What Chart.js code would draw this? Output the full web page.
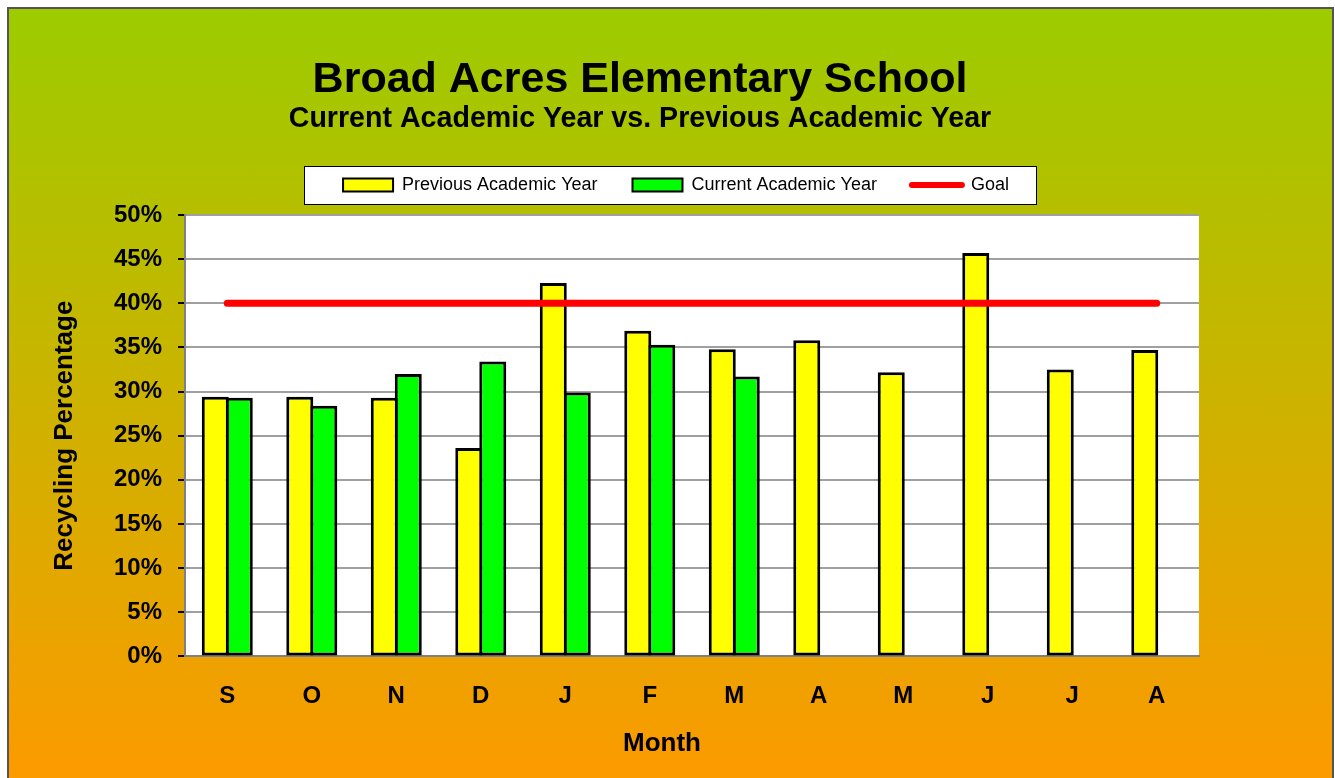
<!DOCTYPE html>
<html>
<head>
<meta charset="utf-8">
<title>Broad Acres Elementary School - Recycling</title>
<script src="https://cdn.jsdelivr.net/npm/chart.js@4.4.1/dist/chart.umd.min.js"></script>
<style>
html, body { margin: 0; padding: 0; background: #fff; overflow: hidden; }
#frame {
    position: absolute; left: 7px; top: 7px;
    width: 1323px; height: 771px;
    border: 2px solid #555; border-bottom: none;
    background: linear-gradient(to bottom, #9ccc00 0%, #fc9a00 100%);
}
#wrap { position: absolute; left: 0; top: 0; width: 1335px; height: 778px; }
</style>
</head>
<body>
<div id="frame"></div>
<div id="wrap"><canvas id="recycleChart" width="1335" height="778"></canvas></div>
<script>
var TITLE = 'Broad Acres Elementary School';
var SUBTITLE = 'Current Academic Year vs. Previous Academic Year';

var MONTHS = ['S', 'O', 'N', 'D', 'J', 'F', 'M', 'A', 'M', 'J', 'J', 'A'];
var PREVIOUS_YEAR = [29.4, 29.4, 29.3, 23.6, 42.3, 36.9, 34.8, 35.8, 32.2, 45.7, 32.5, 34.7];
var CURRENT_YEAR = [29.3, 28.4, 32.0, 33.4, 29.9, 35.3, 31.7, null, null, null, null, null];
var GOAL = [40, 40, 40, 40, 40, 40, 40, 40, 40, 40, 40, 40];
var Y_MIN = 0, Y_MAX = 50, Y_STEP = 5;

Chart.defaults.font.family = "'Liberation Sans', Arial, sans-serif";

// move title blocks / legend to where the original has them
var centerBoxes = {
    id: 'centerBoxes',
    afterLayout: function (chart) {
        chart.boxes.forEach(function (box) {
            var target = null;
            if (box === chart.legend) {
                target = 676;
                box.top -= 11;      // legend row sits higher than its layout slot
                box.bottom -= 11;
            }
            else if (box.options && (box.options.text === TITLE || box.options.text === SUBTITLE)) target = 640;
            if (target === null) return;
            var w = box.right - box.left;
            box.left = target - w / 2;
            box.right = box.left + w;
        });
        // "Month" is centred on the page, not on the plot
        var xs = chart.scales.x;
        if (xs && !xs._shiftedTitle) {
            var orig = xs.drawTitle;
            xs.drawTitle = function () {
                this.ctx.save();
                this.ctx.translate(-30, 0);
                orig.apply(this, arguments);
                this.ctx.restore();
            };
            xs._shiftedTitle = true;
        }
    }
};

// white plot area and white legend box
var panels = {
    id: 'panels',
    beforeDraw: function (chart) {
        var ctx = chart.ctx, a = chart.chartArea;
        ctx.save();
        ctx.fillStyle = '#fff';
        ctx.fillRect(a.left, a.top, a.right - a.left, a.bottom - a.top);
        var hb = chart.legend.legendHitBoxes;
        if (hb && hb.length) {
            var first = hb[0], last = hb[hb.length - 1];
            var x0 = Math.round(first.left - 39), x1 = Math.round(last.left + last.width + 28);
            var y0 = Math.round(first.top - 10), y1 = Math.round(first.top + first.height + 11);
            ctx.fillRect(x0, y0, x1 - x0, y1 - y0);
            ctx.strokeStyle = '#000';
            ctx.lineWidth = 1;
            ctx.strokeRect(x0 + 0.5, y0 + 0.5, x1 - x0 - 1, y1 - y0 - 1);
        }
        ctx.restore();
    }
};

var chrt = new Chart(document.getElementById('recycleChart').getContext('2d'), {
    type: 'bar',
    data: {
        labels: MONTHS,
        datasets: [
            {
                label: 'Previous Academic Year', data: PREVIOUS_YEAR,
                backgroundColor: '#ffff00', borderColor: '#000', borderWidth: 3, borderSkipped: false,
                categoryPercentage: 0.568, barPercentage: 1.125, order: 1
            },
            {
                label: 'Current Academic Year', data: CURRENT_YEAR,
                backgroundColor: '#00ff00', borderColor: '#000', borderWidth: 3, borderSkipped: false,
                categoryPercentage: 0.568, barPercentage: 1.125, order: 1
            },
            {
                type: 'line', label: 'Goal', data: GOAL,
                borderColor: '#ff0000', backgroundColor: '#ff0000', borderWidth: 7,
                borderCapStyle: 'round', pointRadius: 0, fill: false, order: 0
            }
        ]
    },
    options: {
        responsive: false,
        animation: false,
        events: [],
        layout: { padding: { left: 48.4, right: 136, top: 0, bottom: 21 } },
        plugins: {
            title: {
                display: true, text: TITLE, color: '#000',
                font: { size: 43, weight: 'bold', lineHeight: 1 },
                padding: { top: 58.5, bottom: 0 }
            },
            subtitle: {
                display: true, text: SUBTITLE, color: '#000',
                font: { size: 28.6, weight: 'bold', lineHeight: 1 },
                padding: { top: 3.5, bottom: 18.4 }
            },
            legend: {
                position: 'top',
                labels: {
                    color: '#000',
                    font: { size: 18 },
                    padding: 35,
                    usePointStyle: true,
                    pointStyleWidth: 50,
                    boxHeight: 13,
                    sort: function (a, b) { return a.datasetIndex - b.datasetIndex; },
                    generateLabels: function (chart) {
                        var items = Chart.defaults.plugins.legend.labels.generateLabels(chart);
                        items.forEach(function (it) {
                            if (it.datasetIndex === 2) {
                                it.pointStyle = 'line'; it.lineWidth = 6; it.lineCap = 'round'; it.strokeStyle = '#ff0000';
                            } else {
                                it.pointStyle = 'rect'; it.lineWidth = 2; it.strokeStyle = '#000';
                            }
                        });
                        return items;
                    }
                }
            },
            tooltip: { enabled: false }
        },
        scales: {
            x: {
                grid: { display: false, drawTicks: false },
                border: { display: true, color: '#808080', width: 2 },
                ticks: { color: '#000', font: { size: 24, weight: 'bold' }, padding: 25.6, maxRotation: 0, autoSkip: false },
                title: {
                    display: true, text: 'Month', color: '#000',
                    font: { size: 26, weight: 'bold', lineHeight: 1 }, padding: { top: -5.4, bottom: 0 }
                }
            },
            y: {
                min: Y_MIN, max: Y_MAX,
                ticks: {
                    stepSize: Y_STEP, color: '#000', font: { size: 24, weight: 'bold' }, padding: 16,
                    callback: function (v) { return v + '%'; }
                },
                grid: { color: '#a0a0a0', lineWidth: 2, tickColor: '#000', tickLength: 7, tickWidth: 2 },
                border: { color: '#808080', width: 2 },
                title: {
                    display: true, text: 'Recycling Percentage', color: '#000',
                    font: { size: 26, weight: 'bold' }, padding: { top: 1, bottom: 17.4 }
                }
            }
        }
    },
    plugins: [centerBoxes, panels]
});
</script>
</body>
</html>
